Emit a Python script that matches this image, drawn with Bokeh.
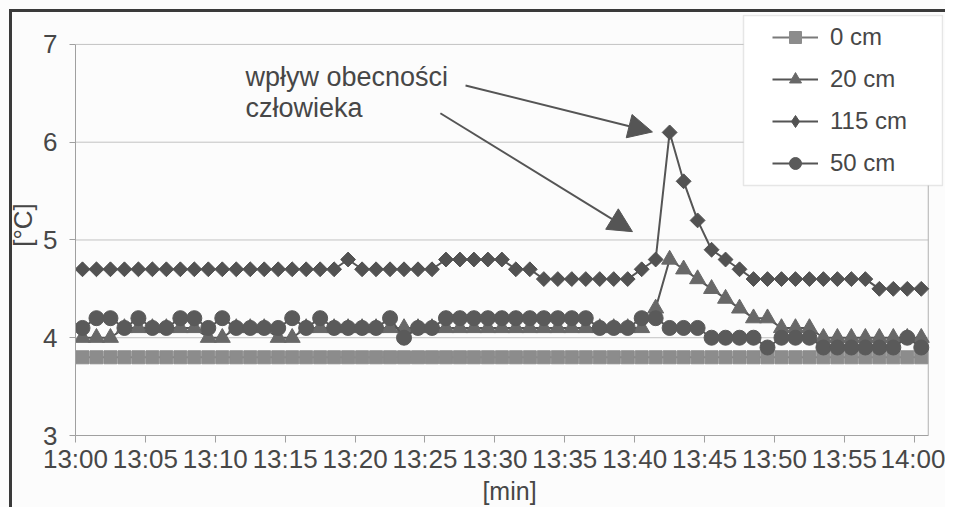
import math
from bokeh.plotting import figure
from bokeh.models import (FixedTicker, Legend, LegendItem, Arrow, NormalHead,
                          Label, BoxAnnotation, Range1d)
from bokeh.embed import file_html
from bokeh.resources import INLINE

# ---------------- data ----------------
minutes = list(range(61))  # 13:00 ... 14:00, one reading per minute
tick_minutes = [0, 5, 10, 15, 20, 25, 30, 35, 40, 45, 50, 55, 60]
tick_labels = ["13:00", "13:05", "13:10", "13:15", "13:20", "13:25", "13:30",
               "13:35", "13:40", "13:45", "13:50", "13:55", "14:00"]
y_ticks = [3, 4, 5, 6, 7]

s_0cm = [3.8, 3.8, 3.8, 3.8, 3.8, 3.8, 3.8, 3.8, 3.8, 3.8,
         3.8, 3.8, 3.8, 3.8, 3.8, 3.8, 3.8, 3.8, 3.8, 3.8,
         3.8, 3.8, 3.8, 3.8, 3.8, 3.8, 3.8, 3.8, 3.8, 3.8,
         3.8, 3.8, 3.8, 3.8, 3.8, 3.8, 3.8, 3.8, 3.8, 3.8,
         3.8, 3.8, 3.8, 3.8, 3.8, 3.8, 3.8, 3.8, 3.8, 3.8,
         3.8, 3.8, 3.8, 3.8, 3.8, 3.8, 3.8, 3.8, 3.8, 3.8, 3.8]

s_20cm = [4.0, 4.0, 4.0, 4.1, 4.1, 4.1, 4.1, 4.1, 4.1, 4.0,
          4.0, 4.1, 4.1, 4.1, 4.0, 4.0, 4.1, 4.1, 4.1, 4.1,
          4.1, 4.1, 4.1, 4.1, 4.1, 4.1, 4.1, 4.1, 4.1, 4.1,
          4.1, 4.1, 4.1, 4.1, 4.1, 4.1, 4.1, 4.1, 4.1, 4.1,
          4.1, 4.3, 4.8, 4.7, 4.6, 4.5, 4.4, 4.3, 4.2, 4.2,
          4.1, 4.1, 4.1, 4.0, 4.0, 4.0, 4.0, 4.0, 4.0, 4.0, 4.0]

s_115cm = [4.7, 4.7, 4.7, 4.7, 4.7, 4.7, 4.7, 4.7, 4.7, 4.7,
           4.7, 4.7, 4.7, 4.7, 4.7, 4.7, 4.7, 4.7, 4.7, 4.8,
           4.7, 4.7, 4.7, 4.7, 4.7, 4.7, 4.8, 4.8, 4.8, 4.8,
           4.8, 4.7, 4.7, 4.6, 4.6, 4.6, 4.6, 4.6, 4.6, 4.6,
           4.7, 4.8, 6.1, 5.6, 5.2, 4.9, 4.8, 4.7, 4.6, 4.6,
           4.6, 4.6, 4.6, 4.6, 4.6, 4.6, 4.6, 4.5, 4.5, 4.5, 4.5]

s_50cm = [4.1, 4.2, 4.2, 4.1, 4.2, 4.1, 4.1, 4.2, 4.2, 4.1,
          4.2, 4.1, 4.1, 4.1, 4.1, 4.2, 4.1, 4.2, 4.1, 4.1,
          4.1, 4.1, 4.2, 4.0, 4.1, 4.1, 4.2, 4.2, 4.2, 4.2,
          4.2, 4.2, 4.2, 4.2, 4.2, 4.2, 4.2, 4.1, 4.1, 4.1,
          4.2, 4.2, 4.1, 4.1, 4.1, 4.0, 4.0, 4.0, 4.0, 3.9,
          4.0, 4.0, 4.0, 3.9, 3.9, 3.9, 3.9, 3.9, 3.9, 4.0, 3.9]

note_lines = ["wpływ obecności", "człowieka"]

# ---------------- styling ----------------
FONT = "Liberation Sans"
TXT = "#474747"
BG = "#fcfcfc"
LINE = "#555555"
GRID = "#c2c2c2"

X_END = 61            # last category boundary
Y_MIN, Y_MAX = 3, 7

# frame extended a little beyond the axes so that the legend box (which sits
# partly outside the plotting area in the original) is not clipped
p = figure(width=945, height=507, output_backend="svg", toolbar_location=None,
           x_range=Range1d(0, 62.09), y_range=Range1d(3, 7.306),
           min_border_left=75, min_border_right=2, min_border_top=14,
           min_border_bottom=71,
           background_fill_color=BG, border_fill_alpha=0.0)
# dark frame of the chart area (left and top edges, ~3px wide, 9px in)
p.styles = {"background-color": BG,
            "box-shadow": f"inset 9px 9px 0px 0px {BG}, inset 12px 12px 0px 0px #3a3a3a"}
p.outline_line_color = None
p.xgrid.visible = False
p.ygrid.visible = False

# gridlines and right border of the plotting area
grid_y = [t for t in y_ticks if t > Y_MIN]
p.segment(x0=[0] * len(grid_y), x1=[X_END] * len(grid_y), y0=grid_y, y1=grid_y,
          line_color=GRID, line_width=1)
p.segment(x0=[X_END], x1=[X_END], y0=[Y_MIN], y1=[Y_MAX],
          line_color="#b0b0b0", line_width=1)

# y axis
p.yaxis.ticker = FixedTicker(ticks=y_ticks)
p.yaxis.bounds = (Y_MIN, Y_MAX)
p.yaxis.axis_label = "[°C]"
p.yaxis.axis_label_text_font = FONT
p.yaxis.axis_label_text_font_size = "26px"
p.yaxis.axis_label_text_font_style = "normal"
p.yaxis.axis_label_text_color = TXT
p.yaxis.axis_label_standoff = 2
p.yaxis.major_label_text_font = FONT
p.yaxis.major_label_text_font_size = "26px"
p.yaxis.major_label_text_color = TXT
p.yaxis.major_label_standoff = 12
p.yaxis.axis_line_color = "#a0a0a0"
p.yaxis.major_tick_line_color = "#a0a0a0"
p.yaxis.major_tick_out = 6
p.yaxis.major_tick_in = 0
p.yaxis.minor_tick_line_color = None

# x axis
p.xaxis.ticker = FixedTicker(ticks=tick_minutes)
p.xaxis.bounds = (0, X_END)
p.xaxis.major_label_overrides = {m: lab for m, lab in zip(tick_minutes, tick_labels)}
p.xaxis.axis_label = "[min]"
p.xaxis.axis_label_text_font = FONT
p.xaxis.axis_label_text_font_size = "25px"
p.xaxis.axis_label_text_font_style = "normal"
p.xaxis.axis_label_text_color = TXT
p.xaxis.axis_label_standoff = 0
p.xaxis.major_label_text_font = FONT
p.xaxis.major_label_text_font_size = "26px"
p.xaxis.major_label_text_color = TXT
p.xaxis.major_label_standoff = 1
p.xaxis.axis_line_color = "#a0a0a0"
p.xaxis.major_tick_line_color = "#a0a0a0"
p.xaxis.major_tick_out = 7
p.xaxis.major_tick_in = 0
p.xaxis.minor_tick_line_color = None

# points sit in the middle of each minute's category slot
xs = [m + 0.5 for m in minutes]

series = [
    ("0 cm", s_0cm, "square", 13, "#8c8c8c", 0.0, "#7a7a7a", "square", 13),
    ("20 cm", s_20cm, "triangle", 16, "#686868", 0.0, LINE, "triangle", 16),
    ("115 cm", s_115cm, "square", 10.5, "#525252", math.pi / 4, LINE, "diamond", 17),
    ("50 cm", s_50cm, "circle", 15, "#5a5a5a", 0.0, LINE, "circle", 15),
]

items = []
for name, ys, marker, size, col, ang, lcol, lg_marker, lg_size in series:
    rl = p.line(xs, ys, line_color=lcol, line_width=2)
    rs = p.scatter(xs, ys, marker=marker, size=size, angle=ang,
                   fill_color=col, line_color=col, line_width=1)
    # legend swatch (no data of its own; only used to draw the key)
    rk = p.scatter([float("nan")], [float("nan")], marker=lg_marker, size=lg_size,
                   fill_color=col, line_color=col)
    items.append(LegendItem(label=name, renderers=[rl, rk]))

# annotation: arrows + text
arrow_1 = (27.9, 6.58, 41.27, 6.105)
arrow_2 = (26.1, 6.296, 39.84, 5.085)
for xs0, ys0, xe, ye in (arrow_1, arrow_2):
    p.add_layout(Arrow(end=NormalHead(size=24, fill_color=LINE, line_color=LINE),
                       x_start=xs0, y_start=ys0, x_end=xe, y_end=ye,
                       line_color=LINE, line_width=2))

note_x = 12.16
note_y = [6.663, 6.347]
for txt, yy in zip(note_lines, note_y):
    p.add_layout(Label(x=note_x, y=yy, text=txt, text_baseline="middle",
                       text_align="left", text_font=FONT, text_font_size="27px",
                       text_color=TXT))

# legend box (drawn separately so the keys can be inset as in the original)
p.add_layout(BoxAnnotation(left=668, right=867, bottom=250, top=420,
                           left_units="screen", right_units="screen",
                           top_units="screen", bottom_units="screen",
                           fill_color="#ffffff", fill_alpha=1.0,
                           line_color="#b0b0b0", line_width=1.5))

legend = Legend(items=items, location=(690, 250), margin=0, padding=7,
                spacing=12, glyph_height=30, label_height=30, glyph_width=46,
                label_standoff=12, label_width=100,
                label_text_font=FONT, label_text_font_size="24px",
                label_text_color=TXT, border_line_alpha=0,
                background_fill_alpha=0)
p.add_layout(legend)

open("out.html", "w").write(file_html(p, INLINE))
